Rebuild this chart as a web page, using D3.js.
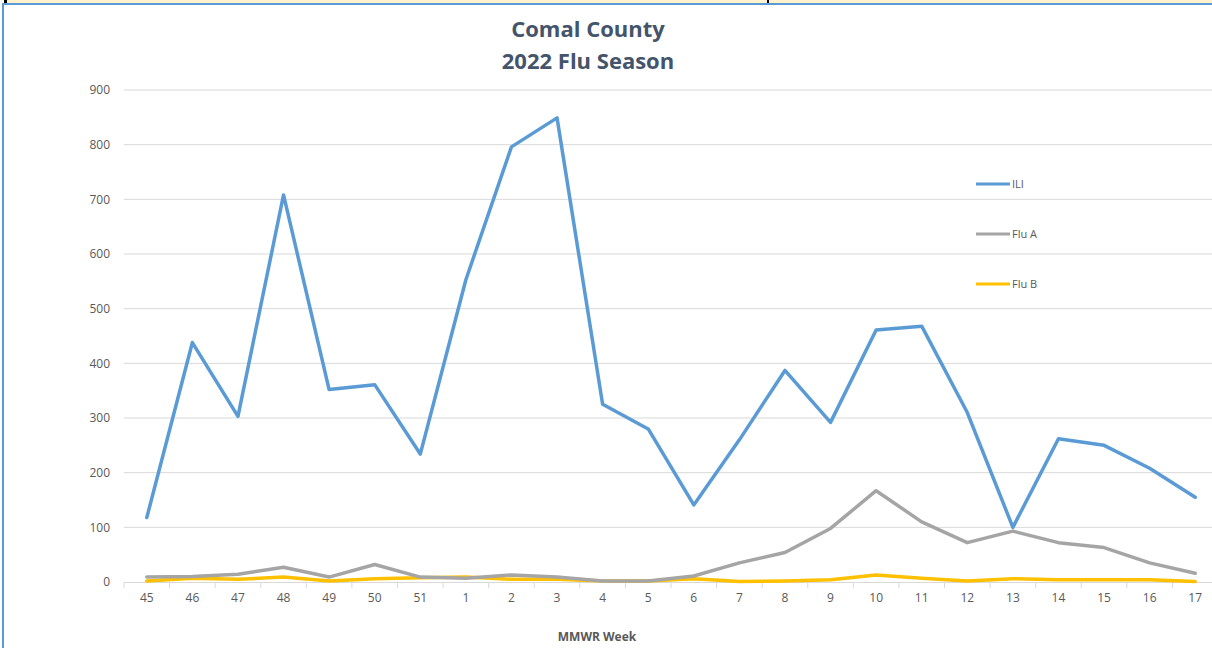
<!DOCTYPE html>
<html>
<head>
<meta charset="utf-8">
<script src="https://cdn.jsdelivr.net/npm/d3@7"></script>
<style>
  body { margin: 0; background: #fff; }
  svg { display: block; font-family: "Open Sans", sans-serif; }
</style>
</head>
<body>
<svg id="chart" width="1212" height="648"></svg>
<script>
// MMWR weeks, 2022 season
var weeks = ["45","46","47","48","49","50","51","1","2","3","4","5","6","7","8","9","10","11","12","13","14","15","16","17"];
var ili  = [118, 438, 303, 708, 352, 361, 234, 553, 796, 849, 325, 280, 141, 260, 387, 292, 461, 468, 310, 100, 262, 250, 208, 155];
var fluA = [9, 10, 14, 27, 9, 32, 9, 7, 13, 9, 2, 2, 11, 35, 54, 98, 167, 110, 72, 93, 72, 63, 35, 16];
var fluB = [2, 7, 5, 9, 2, 6, 8, 9, 5, 5, 2, 2, 6, 1, 2, 4, 13, 7, 2, 6, 4, 4, 4, 1];
var yTicks = [0, 100, 200, 300, 400, 500, 600, 700, 800, 900];

var series = [
  {name: "ILI", values: ili, color: "#5b9bd5"},
  {name: "Flu A", values: fluA, color: "#a5a5a5"},
  {name: "Flu B", values: fluB, color: "#ffc000"}
];

var svg = d3.select("#chart");
var W = 1212, H = 648;

// frame bits at the top (cropped spreadsheet look)
svg.append("rect").attr("x", 6).attr("y", 0).attr("width", W).attr("height", 3).attr("fill", "#fff2cc");
svg.append("rect").attr("x", 4).attr("y", 0).attr("width", 3).attr("height", 3).attr("fill", "#000");
svg.append("rect").attr("x", 767).attr("y", 0).attr("width", 2).attr("height", 3).attr("fill", "#000");
svg.append("rect").attr("x", 2).attr("y", 3).attr("width", W).attr("height", 2).attr("fill", "#5b9bd5");
svg.append("rect").attr("x", 2).attr("y", 3).attr("width", 2).attr("height", H).attr("fill", "#5b9bd5");

var x = d3.scaleBand().domain(weeks).range([124, 1218]);
var y = d3.scaleLinear().domain([0, 900]).range([582, 90]);

// gridlines
svg.append("g")
  .selectAll("line")
  .data(yTicks.slice(1))
  .enter().append("line")
  .attr("x1", 124).attr("x2", W)
  .attr("y1", d => y(d)).attr("y2", d => y(d))
  .attr("stroke", "#d9d9d9").attr("stroke-width", 1);

// y axis labels
var yAxis = svg.append("g")
  .attr("transform", "translate(124,0)")
  .call(d3.axisLeft(y).tickValues(yTicks).tickSize(0).tickPadding(14));
yAxis.select(".domain").remove();
yAxis.selectAll("text")
  .attr("fill", "#595959").style("font-size", "12px").style("font-family", "Open Sans, sans-serif");

// x axis
var xAxis = svg.append("g")
  .attr("transform", "translate(0," + y(0) + ")")
  .call(d3.axisBottom(x).tickSize(0).tickPadding(11));
xAxis.select(".domain").attr("stroke", "#d9d9d9");
xAxis.selectAll("text")
  .attr("fill", "#595959").style("font-size", "12px").style("font-family", "Open Sans, sans-serif");
// category separator ticks
xAxis.append("g")
  .selectAll("line")
  .data(weeks)
  .enter().append("line")
  .attr("x1", d => x(d)).attr("x2", d => x(d))
  .attr("y1", 0).attr("y2", 6)
  .attr("stroke", "#d9d9d9");

// lines
var line = d3.line()
  .x((d, i) => x(weeks[i]) + x.bandwidth() / 2)
  .y(d => y(d));

series.slice().reverse().forEach(function(s) {
  svg.append("path")
    .datum(s.values)
    .attr("d", line)
    .attr("fill", "none")
    .attr("stroke", s.color)
    .attr("stroke-width", 3.5)
    .attr("stroke-linejoin", "round")
    .attr("stroke-linecap", "round");
});

// legend
var legend = svg.append("g");
series.forEach(function(s, i) {
  var ly = 184 + i * 50;
  legend.append("line")
    .attr("x1", 976).attr("x2", 1010).attr("y1", ly).attr("y2", ly)
    .attr("stroke", s.color).attr("stroke-width", 3);
  legend.append("text")
    .attr("x", 1012).attr("y", ly + 4)
    .attr("fill", "#595959").style("font-size", "11px")
    .text(s.name);
});

// titles
svg.append("text")
  .attr("x", 588).attr("y", 37)
  .attr("text-anchor", "middle")
  .attr("fill", "#44546a")
  .style("font-size", "22px").style("font-weight", "bold")
  .text("Comal County");
svg.append("text")
  .attr("x", 588).attr("y", 69)
  .attr("text-anchor", "middle")
  .attr("fill", "#44546a")
  .style("font-size", "22px").style("font-weight", "bold")
  .text("2022 Flu Season");

svg.append("text")
  .attr("x", 597).attr("y", 641)
  .attr("text-anchor", "middle")
  .attr("fill", "#595959")
  .style("font-size", "12px").style("font-weight", "bold")
  .text("MMWR Week");
</script>
</body>
</html>
